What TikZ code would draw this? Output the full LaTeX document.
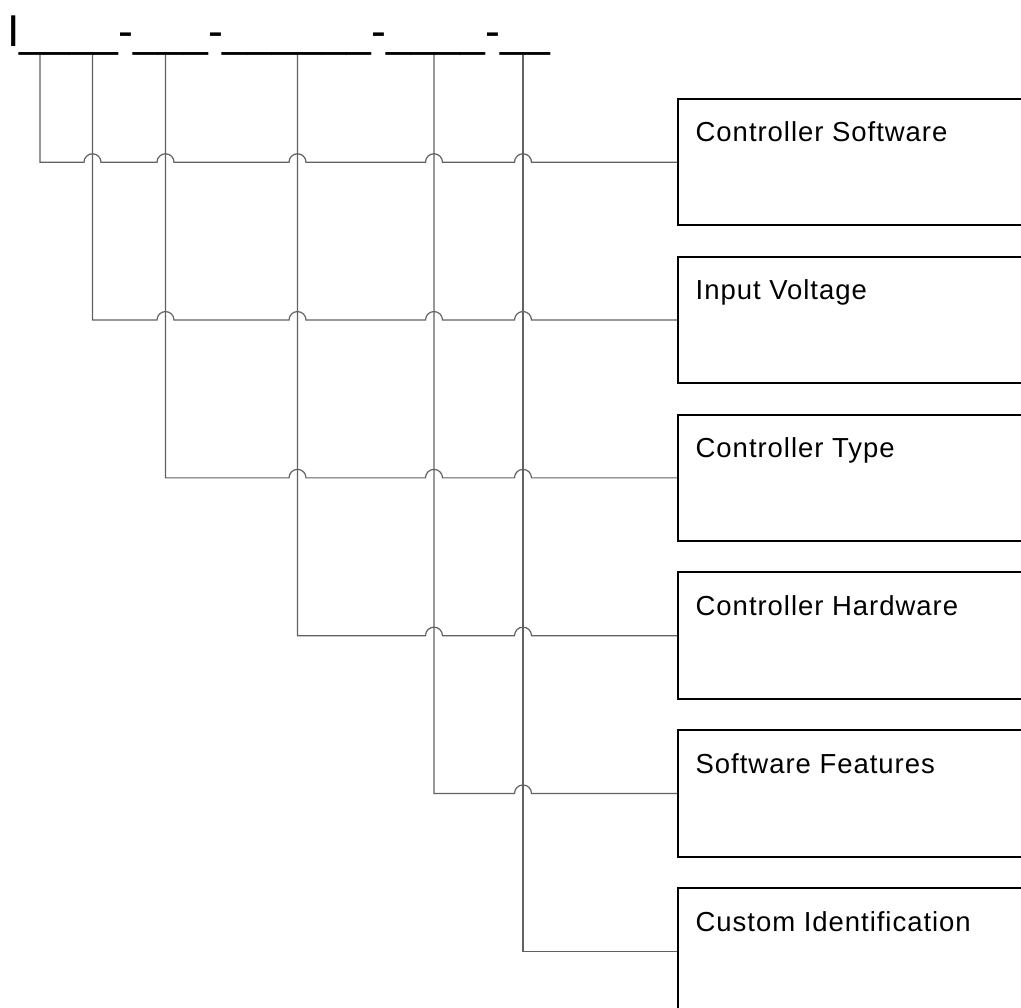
\documentclass[tikz,border=0pt]{standalone}
\usepackage{fontspec}
\setmainfont{Liberation Sans}
\newfontfamily\boxfont[LetterSpace=3.5]{Liberation Sans}
\usetikzlibrary{calc,backgrounds}
\begin{document}
\begin{tikzpicture}[x=1pt,y=-1pt,
  wire/.style={draw=black!62, line width=1.2pt},
  boxstyle/.style={draw=black, line width=2pt, minimum width=360pt, minimum height=126.5pt,
    anchor=north west, inner sep=0pt, outer sep=0pt},
  lbl/.style={anchor=base west, inner sep=0pt, font=\boxfont\fontsize{27.5}{31}\selectfont},
  hdrstyle/.style={anchor=base west, inner sep=0pt, font=\fontsize{44.6}{50}\selectfont}]
\useasboundingbox (0,0) rectangle (1021,1008);
\clip (0,0) rectangle (1021,1008);
% header code template
\node[hdrstyle] (hdr) at (7,47) {I\_\_\_\_-\_\_\_-\_\_\_\_\_\_-\_\_\_\_-\_\_};
% tap points on the underline
\foreach \i/\x in {1/40,2/92.5,3/165.5,4/297.5,5/434,6/523}
  \coordinate (t\i) at (\x,55);
% boxes and labels
\foreach \i/\t in {1/Controller Software,2/Input Voltage,3/Controller Type,
                   4/Controller Hardware,5/Software Features,6/Custom Identification}{
  \node[boxstyle] (b\i) at (678,{99+157.8*(\i-1)}) {};
  \node[lbl] (l\i) at (695.5,{99+157.8*(\i-1)+43}) {\t};
}
% connectors with line jumps
\begin{scope}[on background layer]
\foreach \i/\js in {1/{2,3,4,5,6},2/{3,4,5,6},3/{4,5,6},4/{5,6},5/{6}}{
  \draw[wire] (t\i) -- (t\i |- b\i.west)
    \foreach \j in \js { -- ($(t\j |- b\i.west)+(-8.5,0)$)
      arc[start angle=180,end angle=0,radius=8.5pt] }
    -- (b\i.west);
}
\draw[wire] (t6) -- (t6 |- b6.west) -- (b6.west);
\end{scope}
\end{tikzpicture}
\end{document}
